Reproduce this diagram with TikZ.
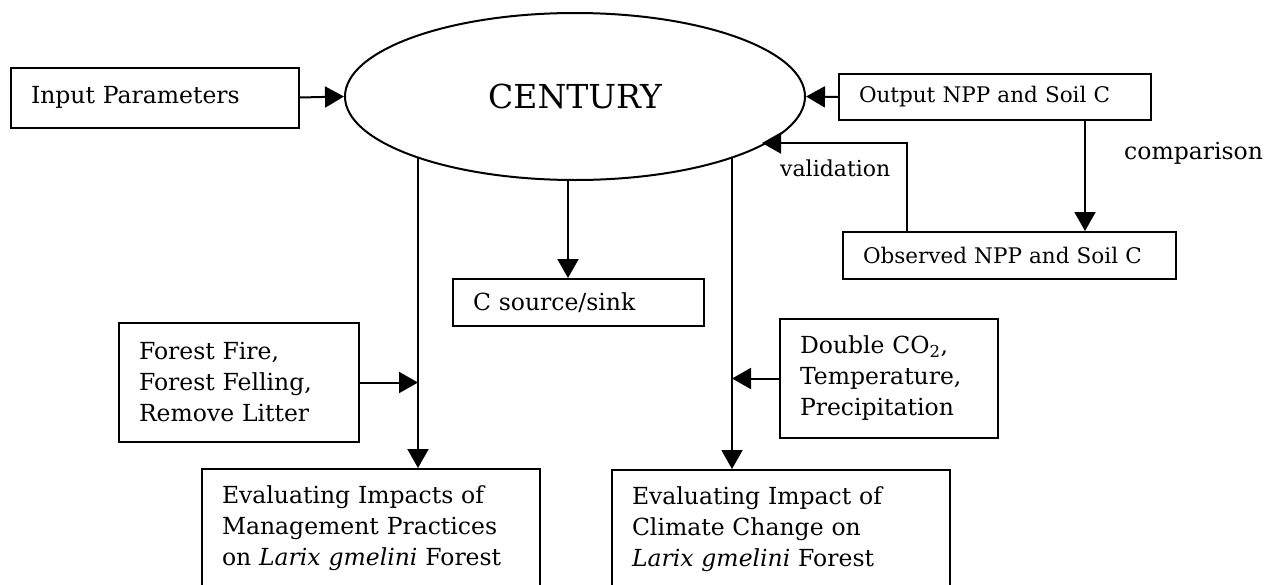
\documentclass[tikz,border=0pt]{standalone}
\usepackage{fontspec}
\setmainfont{DejaVu Serif}
\usetikzlibrary{arrows.meta,shapes.geometric}
\begin{document}
\begin{tikzpicture}[x=1pt,y=-1pt,
  every node/.style={font=\fontsize{23.5}{31}\selectfont},
  small/.style={font=\fontsize{21.5}{31}\selectfont},
  box/.style={draw,line width=2pt,anchor=north west,align=left,inner xsep=20pt,inner ysep=0pt},
  arr/.style={line width=2pt,-{Triangle[length=19pt,width=21pt]}}]
\useasboundingbox (0,0) rectangle (1267,584);
\clip (0,0) rectangle (1267,584);
% ellipse
\node[draw,ellipse,line width=2pt,minimum width=460pt,minimum height=167pt,inner sep=0pt,font=\fontsize{33}{38}\selectfont] (cent) at (575,96.5) {CENTURY};
% boxes
\node[box,text width=248pt,minimum height=60pt] (inp) at (10,66.5) {Input Parameters};
\node[box,small,text width=272pt,minimum height=46pt] (out) at (838,73) {Output NPP and Soil C};
\node[box,small,text width=293pt,minimum height=47pt] (obs) at (842,231) {Observed NPP and Soil C};
\node[box,text width=211pt,minimum height=47pt] (csrc) at (452,278) {C source/sink};
\node[box,text width=200pt,minimum height=119pt] (fire) at (118,322) {Forest Fire,\\Forest Felling,\\Remove Litter};
\node[box,text width=178pt,minimum height=119pt] (dbl) at (779,318) {Double CO\textsubscript{2},\\Temperature,\\Precipitation};
\node[box,text width=298pt,minimum height=118pt] (ev1) at (201,468) {Evaluating Impacts of\\Management Practices\\on \textit{Larix gmelini} Forest};
\node[box,text width=298pt,minimum height=118pt] (ev2) at (611,469) {Evaluating Impact of\\Climate Change on\\\textit{Larix gmelini} Forest};
% labels
\node[anchor=west,inner sep=0pt] (lcomp) at (1124,153) {comparison};
\node[anchor=west,inner sep=0pt,font=\fontsize{22}{31}\selectfont] (lval) at (780,168) {validation};
% coordinates on ellipse border
\coordinate (l1) at (418,157.5);
\coordinate (r1) at (732,157.5);
\coordinate (c1) at (568,180);
\coordinate (vend) at (762,143);
\coordinate (vcorner) at (907,143);
\coordinate (cx) at (1085,0);
% connectors
\draw[arr] (inp.east) -- (cent.west);
\draw[arr] (out.west) -- (cent.east);
\draw[arr] (out.south -| cx) -- (obs.north -| cx);
\draw[arr] (obs.north -| vcorner) -- (vcorner) -- (vend);
\draw[arr] (l1) -- (ev1.north -| l1);
\draw[arr] (r1) -- (ev2.north -| r1);
\draw[arr] (c1) -- (csrc.north -| c1);
\draw[arr] (fire.east) -- (fire.east -| l1);
\draw[arr] (dbl.west) -- (dbl.west -| r1);
\end{tikzpicture}
\end{document}
